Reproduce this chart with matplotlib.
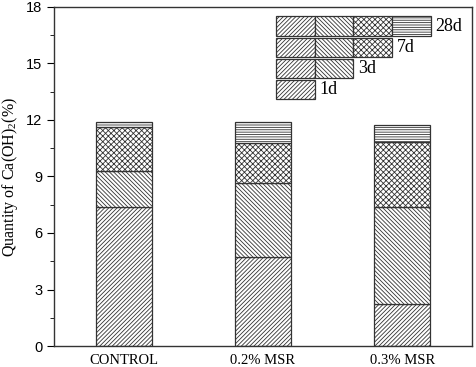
import matplotlib
matplotlib.use("Agg")
import matplotlib.pyplot as plt
from matplotlib.patches import Rectangle
from matplotlib.ticker import MultipleLocator

categories = ["CONTROL", "0.2% MSR", "0.3% MSR"]
ages = ["1d", "3d", "7d", "28d"]
# cumulative Ca(OH)2 content (%) at each age
d1 = [7.40, 4.74, 2.23]
d3 = [9.29, 8.64, 7.40]
d7 = [11.61, 10.80, 10.82]
d28 = [11.90, 11.88, 11.72]
series = [d1, d3, d7, d28]
hatches = ["////////", "\\\\\\\\\\\\\\\\", "xxxxxx", "-------"]

plt.rcParams['hatch.linewidth'] = 0.6
plt.rcParams['hatch.color'] = '#333333'
plt.rcParams['mathtext.fontset'] = 'custom'
plt.rcParams['mathtext.rm'] = 'Liberation Serif'
plt.rcParams['mathtext.it'] = 'Liberation Serif:italic'

fig = plt.figure(figsize=(4.77, 3.67), dpi=100)
ax = fig.add_axes([0.1132, 0.0572, 0.8763, 0.9238])

x = list(range(len(categories)))
prev = [0] * len(categories)
for vals, h in zip(series, hatches):
    heights = [v - p for v, p in zip(vals, prev)]
    ax.bar(x, heights, bottom=prev, width=0.4, facecolor='white',
           edgecolor='#333333', linewidth=0.9, hatch=h)
    prev = vals

ax.set_xlim(-0.5, 2.5)
ax.set_ylim(0, 18)
ax.yaxis.set_major_locator(MultipleLocator(3))
ax.yaxis.set_minor_locator(MultipleLocator(1.5))
ax.set_xticks(x)
ax.set_xticklabels(categories, fontfamily='Liberation Serif', fontsize=10.5)
ax.tick_params(axis='x', length=0, pad=6)
ax.tick_params(axis='y', which='major', length=5, direction='out', labelsize=10.5)
ax.tick_params(axis='y', which='minor', length=3, direction='out')
for lab in ax.get_yticklabels():
    lab.set_fontfamily('Liberation Sans')
for sp in ax.spines.values():
    sp.set_linewidth(1.0)
    sp.set_color('#333333')

ax.set_ylabel("Quantity of Ca(OH)$_2$(%)", fontfamily='Liberation Serif',
              fontsize=11.5, labelpad=4)

# custom legend (rows of hatched boxes)
bw, bh = 0.0925, 0.057
x0 = 0.531
tops = [0.972, 0.909, 0.847, 0.786]
row_ages = ["28d", "7d", "3d", "1d"]
nboxes = [4, 3, 2, 1]
for top, lab, n in zip(tops, row_ages, nboxes):
    for i in range(n):
        ax.add_patch(Rectangle((x0 + i * bw, top - bh), bw, bh,
                               transform=ax.transAxes, facecolor='white',
                               edgecolor='#333333', linewidth=0.9,
                               hatch=hatches[i], clip_on=False))
    ax.text(x0 + n * bw + 0.012, top - bh / 2, lab, transform=ax.transAxes,
            va='center', ha='left', fontfamily='Liberation Serif', fontsize=13)

fig.savefig("out.png", dpi=100)
